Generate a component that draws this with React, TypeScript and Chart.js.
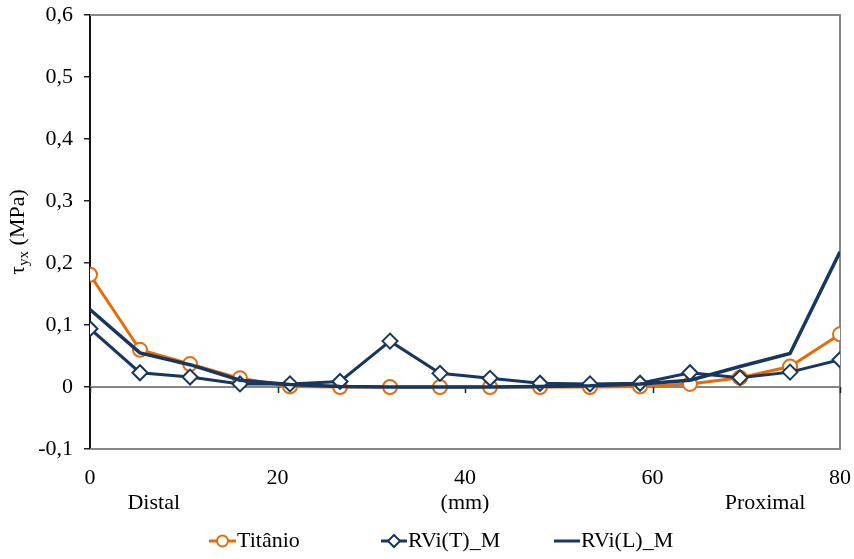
import React, { useEffect, useRef } from "react";
import { Chart, registerables } from "chart.js";

Chart.register(...registerables);

// Position along the stem (mm)
const positions = [0, 5.33, 10.67, 16, 21.33, 26.67, 32, 37.33, 42.67, 48, 53.33, 58.67, 64, 69.33, 74.67, 80];

// Shear stress tau_yx (MPa) for each model
const titanio = [0.181, 0.06, 0.037, 0.014, 0.001, 0.0, 0.0, 0.0, 0.0, 0.0, 0.0, 0.001, 0.005, 0.015, 0.033, 0.085];
const rviT = [0.094, 0.023, 0.016, 0.005, 0.005, 0.009, 0.074, 0.022, 0.014, 0.006, 0.005, 0.006, 0.023, 0.015, 0.024, 0.044];
const rviL = [0.125, 0.055, 0.036, 0.011, 0.004, 0.001, 0.0, 0.0, 0.0, 0.001, 0.002, 0.005, 0.011, 0.033, 0.054, 0.218];

const seriesNames = ["Titânio", "RVi(T)_M", "RVi(L)_M"];
const xTicks = [0, 20, 40, 60, 80];
const regionLabels = ["Distal", "(mm)", "Proximal"];
const regionAt = [6.8, 40, 72.0];

const ORANGE = "#E46C0A";
const NAVY = "#17375E";
const GRAY = "#868686";
const FONT = "'Liberation Serif', 'Times New Roman', serif";
const FS = 22;

const toPoints = (ys: number[]) => ys.map((y, i) => ({ x: positions[i], y }));

const decorations = {
  id: "decorations",
  beforeDatasetsDraw(chart: any) {
    const { ctx, chartArea: a, scales } = chart;
    const y0 = scales.y.getPixelForValue(0);
    ctx.save();
    ctx.strokeStyle = GRAY;
    ctx.lineWidth = 2;
    // plot frame (top, right, bottom)
    ctx.beginPath();
    ctx.moveTo(a.left, a.top);
    ctx.lineTo(a.right, a.top);
    ctx.lineTo(a.right, a.bottom);
    ctx.lineTo(a.left, a.bottom);
    ctx.stroke();
    // zero line with the x tick marks
    ctx.beginPath();
    ctx.moveTo(a.left, y0);
    ctx.lineTo(a.right, y0);
    ctx.stroke();
    ctx.strokeStyle = "#222";
    ctx.lineWidth = 1.5;
    for (const t of xTicks) {
      const px = Math.round(scales.x.getPixelForValue(t)) + 0.5;
      ctx.beginPath();
      ctx.moveTo(px, y0);
      ctx.lineTo(px, y0 + 6);
      ctx.stroke();
    }
    ctx.restore();
  },
  afterDraw(chart: any) {
    const { ctx, chartArea: a, scales } = chart;
    ctx.save();
    ctx.fillStyle = "#000";
    ctx.textBaseline = "middle";
    ctx.textAlign = "center";
    ctx.font = `${FS}px ${FONT}`;
    regionLabels.forEach((t, i) => {
      ctx.fillText(t, scales.x.getPixelForValue(regionAt[i]), 503);
    });

    // y axis title: tau with subscript yx
    ctx.save();
    ctx.translate(17, (a.top + a.bottom) / 2);
    ctx.rotate(-Math.PI / 2);
    const main = `${FS}px ${FONT}`;
    const sub = `${Math.round(FS * 0.68)}px ${FONT}`;
    ctx.font = main;
    const wTau = ctx.measureText("τ").width;
    const rest = " (MPa)";
    const wRest = ctx.measureText(rest).width;
    ctx.font = sub;
    const wSub = ctx.measureText("yx").width;
    let x = -(wTau + wSub + wRest) / 2;
    ctx.textAlign = "left";
    ctx.textBaseline = "alphabetic";
    const base = 7;
    ctx.font = main;
    ctx.fillText("τ", x, base);
    x += wTau;
    ctx.font = sub;
    ctx.fillText("yx", x, base + 4);
    x += wSub;
    ctx.font = main;
    ctx.fillText(rest, x, base);
    ctx.restore();

    // legend
    const ly = 541;
    const items = [
      { x: 209, color: ORANGE, marker: "circle", len: 27 },
      { x: 381, color: NAVY, marker: "diamond", len: 26 },
      { x: 554, color: NAVY, marker: "none", len: 26 },
    ];
    items.forEach((it, i) => {
      ctx.strokeStyle = it.color;
      ctx.lineWidth = 3;
      ctx.beginPath();
      ctx.moveTo(it.x, ly);
      ctx.lineTo(it.x + it.len, ly);
      ctx.stroke();
      const cx = it.x + it.len / 2;
      ctx.lineWidth = 2;
      ctx.fillStyle = "#fff";
      if (it.marker === "circle") {
        ctx.beginPath();
        ctx.arc(cx, ly, 5.5, 0, Math.PI * 2);
        ctx.fill();
        ctx.stroke();
      } else if (it.marker === "diamond") {
        ctx.beginPath();
        ctx.moveTo(cx, ly - 6);
        ctx.lineTo(cx + 6, ly);
        ctx.lineTo(cx, ly + 6);
        ctx.lineTo(cx - 6, ly);
        ctx.closePath();
        ctx.fill();
        ctx.stroke();
      }
      ctx.fillStyle = "#000";
      ctx.font = `${FS}px ${FONT}`;
      ctx.textAlign = "left";
      ctx.textBaseline = "middle";
      ctx.fillText(seriesNames[i], it.x + it.len + 1, ly);
    });
    ctx.restore();
  },
};

export default function App() {
  const ref = useRef<HTMLCanvasElement>(null);

  useEffect(() => {
    if (!ref.current) return;
    const chart = new Chart(ref.current, {
      type: "line",
      data: {
        datasets: [
          {
            label: seriesNames[0],
            data: toPoints(titanio),
            borderColor: ORANGE,
            backgroundColor: "#fff",
            borderWidth: 3,
            pointStyle: "circle",
            pointRadius: 7,
            pointBorderWidth: 2,
            pointBackgroundColor: "#fff",
            pointBorderColor: ORANGE,
            order: 3,
          },
          {
            label: seriesNames[1],
            data: toPoints(rviT),
            borderColor: NAVY,
            backgroundColor: "#fff",
            borderWidth: 3,
            pointStyle: "rectRot",
            pointRadius: 7.5,
            pointBorderWidth: 2,
            pointBackgroundColor: "#fff",
            pointBorderColor: NAVY,
            order: 2,
          },
          {
            label: seriesNames[2],
            data: toPoints(rviL),
            borderColor: NAVY,
            borderWidth: 3.5,
            pointRadius: 0,
            order: 1,
          },
        ],
      },
      options: {
        animation: false,
        responsive: false,
        devicePixelRatio: 1,
        layout: { padding: { left: 0, right: 14, top: 15, bottom: 0 } },
        plugins: { legend: { display: false }, tooltip: { enabled: false } },
        elements: { line: { tension: 0 } },
        scales: {
          x: {
            type: "linear",
            min: 0,
            max: 80,
            afterBuildTicks: (s: any) => {
              s.ticks = xTicks.map((v) => ({ value: v }));
            },
            grid: { display: false, drawTicks: false },
            border: { display: false },
            ticks: {
              color: "#000",
              font: { family: FONT, size: FS },
              padding: 16,
              maxRotation: 0,
              autoSkip: false,
            },
            afterFit: (s: any) => {
              s.height = 110;
              s.paddingLeft = 0;
              s.paddingRight = 0;
            },
          },
          y: {
            min: -0.1,
            max: 0.6,
            ticks: {
              stepSize: 0.1,
              color: "#000",
              font: { family: FONT, size: FS },
              padding: 11,
              callback: (v: any) => {
                const n = Number(v);
                if (Math.abs(n) < 1e-9) return "0";
                return n.toFixed(1).replace(".", ",");
              },
            },
            grid: {
              drawOnChartArea: false,
              drawTicks: true,
              tickLength: 6,
              color: "#222",
              lineWidth: 1.5,
            },
            border: { display: true, color: "#111", width: 2 },
            afterFit: (s: any) => {
              s.width = 90;
              s.paddingTop = 0;
              s.paddingBottom = 0;
            },
          },
        },
      },
      plugins: [decorations],
    });
    return () => chart.destroy();
  }, []);

  return (
    <div style={{ position: "fixed", left: 0, top: 0, width: 854, height: 559, background: "#fff" }}>
      <canvas ref={ref} width={854} height={559} />
    </div>
  );
}
